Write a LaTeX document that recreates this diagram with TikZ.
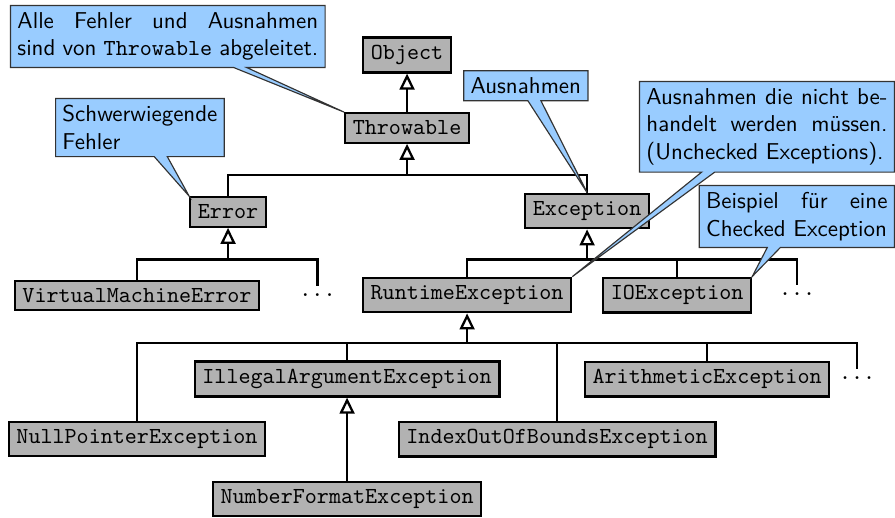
\documentclass[tikz,border=0pt]{standalone}
\usetikzlibrary{arrows.meta,shapes.callouts}
\definecolor{noteblue}{HTML}{99CCFF}

\tikzset{
    class/.style={draw, line width=1pt, fill=black!30, font=\ttfamily},
    more/.style={font=\ttfamily, inner sep=0pt, text height=4.5pt, text depth=0pt, anchor=north},
    link/.style={line width=1pt},
    inherit/.style={line width=1pt, -{Triangle[open,length=7pt,width=6.5pt]}},
    note/.style={rectangle callout, draw=black!80, line width=0.5pt, fill=noteblue,
        font=\sffamily, inner sep=3pt, callout pointer width=0.2cm}
}

\begin{document}
\begin{tikzpicture}
        \useasboundingbox (0,0) rectangle (13.70,7.915);

        % Draw the classes
        \node[class] (object) at (6.231,7.073) {Object};
        \node[class] (throwable) at (6.231,5.956) {Throwable};
        \node[class] (error) at (3.491,4.670) {Error};
        \node[class] (exception) at (8.987,4.685) {Exception};
        \node[class] (vme) at (2.097,3.391) {VirtualMachineError};
        \node[class] (runtime) at (7.150,3.399) {RuntimeException};
        \node[class] (io) at (10.365,3.399) {IOException};
        \node[class] (illegal) at (5.313,2.113) {IllegalArgumentException};
        \node[class] (arith) at (10.824,2.113) {ArithmeticException};
        \node[class] (nullp) at (2.097,1.194) {NullPointerException};
        \node[class] (index) at (8.528,1.194) {IndexOutOfBoundsException};
        \node[class] (numfmt) at (5.313,0.276) {NumberFormatException};
        \node[more] (dotsE) at (4.860,3.537) {...};
        \node[more] (dotsX) at (12.202,3.552) {...};
        \node[more] (dotsR) at (13.121,2.266) {...};

        % Draw the inheritance
        \draw[inherit] (throwable) -- (object);

        \coordinate (tj) at (throwable.south |- 0,5.236);
        \draw[link] (error.north) |- (tj) -| (exception.north);
        \draw[inherit] (tj) -- (throwable.south);

        \coordinate (ej) at (error.south |- 0,3.942);
        \draw[link] (vme.north) |- (ej) -| (dotsE.north);
        \draw[inherit] (ej) -- (error.south);

        \coordinate (xj) at (exception.south |- 0,3.942);
        \draw[link] (runtime.north) |- (xj) -| (dotsX.north);
        \draw[link] (io.north) -- (io.north |- xj);
        \draw[inherit] (xj) -- (exception.south);

        \coordinate (rj) at (runtime.south |- 0,2.664);
        \draw[link] (nullp.north) |- (rj) -| (dotsR.north);
        \foreach \c in {illegal,index,arith}
            \draw[link] (\c.north) -- (\c.north |- rj);
        \draw[inherit] (rj) -- (runtime.south);

        \draw[inherit] (numfmt) -- (illegal);

        % Draw the notes
        \node[note, anchor=north west, text width=131pt, align=justify,
            callout absolute pointer={(throwable.north west)}] (allnote) at (0.153,7.84)
            {Alle Fehler und Ausnahmen\linebreak sind von \texttt{Throwable} abgeleitet.};
        \node[note, anchor=north west, align=left,
            callout absolute pointer={(error.north west)}] (errnote) at (0.842,6.415)
            {Schwerwiegende\\Fehler};
        \node[note, anchor=north west,
            callout absolute pointer={(exception.north)}] (excnote) at (7.09,6.84)
            {Ausnahmen};
        \node[note, anchor=north east, text width=105pt, align=justify,
            callout absolute pointer={(runtime.north east)}] (uncnote) at (13.70,6.675)
            {Ausnahmen die nicht be-\linebreak handelt werden müssen.\linebreak (Unchecked Exceptions).};
        \node[note, anchor=north east, text width=79pt, align=justify,
            callout absolute pointer={(io.north east)}] (chknote) at (13.70,5.083)
            {Beispiel für eine\linebreak \mbox{Checked Exception}};
    \end{tikzpicture}
\end{document}
